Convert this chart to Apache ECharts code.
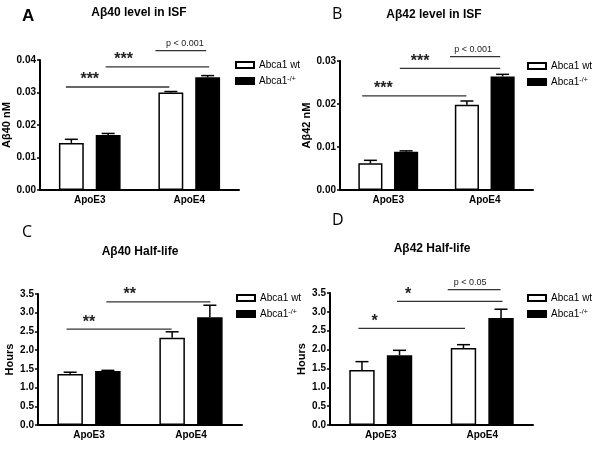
<!DOCTYPE html>
<html><head><meta charset="utf-8">
<script src="https://cdn.jsdelivr.net/npm/echarts@6/dist/echarts.min.js"></script>
<style>html,body{margin:0;padding:0;background:#fff}#c{width:600px;height:458px}</style>
</head><body><div id="c"></div>
<script>
// ---------- data ----------
const categories = ['ApoE3', 'ApoE4'];
const seriesNames = ['Abca1 wt', 'Abca1-/+'];

const aWt = [0.0145, 0.0300];
const aWtErr = [0.0011, 0.0003];
const aKo = [0.0169, 0.0347];
const aKoErr = [0.0005, 0.0005];

const bWt = [0.0062, 0.0198];
const bWtErr = [0.0007, 0.0009];
const bKo = [0.0089, 0.0264];
const bKoErr = [0.0002, 0.0005];

const cWt = [1.36, 2.33];
const cWtErr = [0.05, 0.16];
const cKo = [1.44, 2.88];
const cKoErr = [0.02, 0.32];

const dWt = [1.46, 2.04];
const dWtErr = [0.22, 0.09];
const dKo = [1.85, 2.84];
const dKoErr = [0.13, 0.23];

// significance brackets: [x start, x end, y level, label x] in category units
const aSig = [[-0.24, 0.80, 0.0317, 0.0], [0.16, 1.20, 0.0379, 0.34], [0.66, 1.17, 0.0429, 0.955]];
const aSigText = ['***', '***', 'p < 0.001'];
const bSig = [[-0.27, 0.81, 0.0219, -0.05], [0.12, 1.16, 0.0283, 0.33], [0.64, 1.16, 0.0310, 0.88]];
const bSigText = ['***', '***', 'p < 0.001'];
const cSig = [[-0.22, 0.81, 2.56, 0.0], [0.17, 1.19, 3.29, 0.40]];
const cSigText = ['**', '**'];
const dSig = [[-0.22, 0.83, 2.56, -0.06], [0.16, 1.20, 3.28, 0.27], [0.66, 1.18, 3.59, 0.88]];
const dSigText = ['*', '*', 'p < 0.05'];

const panelLetters = ['A', 'B', 'C', 'D'];
const panelTitles = ['A\u03b240 level in ISF', 'A\u03b242 level in ISF', 'A\u03b240 Half-life', 'A\u03b242 Half-life'];
const yNames = ['A\u03b240 nM', 'A\u03b242 nM', 'Hours', 'Hours'];
const yMax = [0.04, 0.03, 3.5, 3.5];
const yInterval = [0.01, 0.01, 0.5, 0.5];
const yDecimals = [2, 2, 1, 1];

// ---------- layout ----------
const FONT = '"Liberation Sans", Arial, sans-serif';
const grids = [
  {left: 40, top: 60, width: 199, height: 130},
  {left: 340, top: 61, width: 193, height: 129},
  {left: 38, top: 294, width: 204, height: 131},
  {left: 330, top: 293, width: 203, height: 132}
];
const legendPos = [[230, 55], [522, 56], [231, 288], [522, 288]];
const titlePos = [[139, 7], [434, 9], [140, 246], [432, 243]];
const letterPos = [[22, 8], [332, 6], [22, 224], [332, 212]];

const BAR_W = 0.25, BAR_GAP = 0.48;
const OFFSET = BAR_W * (1 + BAR_GAP) / 2;

const panels = [
  {wt: aWt, wtE: aWtErr, ko: aKo, koE: aKoErr, sig: aSig, sigText: aSigText},
  {wt: bWt, wtE: bWtErr, ko: bKo, koE: bKoErr, sig: bSig, sigText: bSigText},
  {wt: cWt, wtE: cWtErr, ko: cKo, koE: cKoErr, sig: cSig, sigText: cSigText},
  {wt: dWt, wtE: dWtErr, ko: dKo, koE: dKoErr, sig: dSig, sigText: dSigText}
];

function errRender(params, api) {
  const x = api.value(0), v = api.value(1), e = api.value(2);
  const p0 = api.coord([x, v]);
  const p1 = api.coord([x, v + e]);
  const hw = 6.5;
  const st = {stroke: '#000', lineWidth: 1.5};
  return {type: 'group', children: [
    {type: 'line', shape: {x1: p0[0], y1: p0[1], x2: p1[0], y2: p1[1]}, style: st},
    {type: 'line', shape: {x1: p1[0] - hw, y1: p1[1], x2: p1[0] + hw, y2: p1[1]}, style: st}
  ]};
}

function makeSigRender(texts) {
  return function (params, api) {
    const a = api.coord([api.value(0), api.value(2)]);
    const b = api.coord([api.value(1), api.value(2)]);
    const t = api.coord([api.value(3), api.value(2)]);
    const label = texts[params.dataIndex];
    const star = label.charAt(0) === '*';
    return {type: 'group', children: [
      {type: 'line', shape: {x1: a[0], y1: a[1], x2: b[0], y2: b[1]}, style: {stroke: '#333', lineWidth: 1.3}},
      {type: 'text', style: {
        text: label, x: t[0], y: a[1] + (star ? 1 : -3),
        align: 'center', verticalAlign: 'bottom',
        font: star ? 'bold 16px ' + FONT : '9px ' + FONT, fill: '#222'
      }}
    ]};
  };
}

const xAxis = [], yAxis = [], series = [], legend = [], graphic = [];
panels.forEach((p, i) => {
  xAxis.push({
    type: 'category', gridIndex: i, data: categories,
    axisLine: {onZero: false, lineStyle: {color: '#000', width: 2}},
    axisTick: {alignWithLabel: true, length: 4, lineStyle: {color: '#000', width: 1.5}},
    axisLabel: {color: '#000', fontWeight: 'bold', fontSize: 10, fontFamily: FONT, margin: 5}
  });
  xAxis.push({type: 'value', gridIndex: i, min: -0.5, max: 1.5, show: false,
    axisLine: {show: false, onZero: false}});
  yAxis.push({
    type: 'value', gridIndex: i, min: 0, max: yMax[i], interval: yInterval[i],
    name: yNames[i], nameLocation: 'middle', nameGap: 23,
    nameTextStyle: {color: '#000', fontWeight: 'bold', fontSize: 11, fontFamily: FONT},
    axisLine: {show: true, onZero: false, lineStyle: {color: '#000', width: 2}},
    axisTick: {show: true, length: 3, lineStyle: {color: '#000', width: 1.5}},
    splitLine: {show: false},
    axisLabel: {color: '#000', fontWeight: 'bold', fontSize: 10, fontFamily: FONT, margin: 4,
      formatter: v => v.toFixed(yDecimals[i])}
  });
  const cx = 2 * i, vx = 2 * i + 1;
  series.push({
    type: 'bar', name: seriesNames[0], xAxisIndex: cx, yAxisIndex: i, data: p.wt,
    barWidth: (BAR_W * 100) + '%', barGap: (BAR_GAP * 100) + '%',
    itemStyle: {color: '#fff', borderColor: '#000', borderWidth: 1.5}, silent: true
  });
  series.push({
    type: 'bar', name: seriesNames[1], xAxisIndex: cx, yAxisIndex: i, data: p.ko,
    barWidth: (BAR_W * 100) + '%', barGap: (BAR_GAP * 100) + '%',
    itemStyle: {color: '#000', borderColor: '#000', borderWidth: 1.5}, silent: true
  });
  series.push({
    type: 'custom', xAxisIndex: vx, yAxisIndex: i, renderItem: errRender, z: 5, silent: true,
    encode: {x: 0, y: [1, 2]},
    data: p.wt.map((v, k) => [k - OFFSET, v, p.wtE[k]]).concat(p.ko.map((v, k) => [k + OFFSET, v, p.koE[k]]))
  });
  series.push({
    type: 'custom', xAxisIndex: vx, yAxisIndex: i, renderItem: makeSigRender(p.sigText), z: 6, silent: true,
    encode: {x: [0, 1, 3], y: 2}, data: p.sig
  });
  legend.push({
    data: seriesNames, orient: 'vertical', left: legendPos[i][0], top: legendPos[i][1],
    icon: 'rect', itemWidth: 18, itemHeight: 6, itemGap: 6, selectedMode: false,
    textStyle: {color: '#000', fontSize: 10, fontFamily: FONT,
      rich: {sup: {fontSize: 7, verticalAlign: 'top', color: '#000', fontFamily: FONT}}},
    formatter: n => n === seriesNames[1] ? 'Abca1{sup|-/+}' : n
  });
  graphic.push({type: 'text', left: letterPos[i][0], top: letterPos[i][1],
    style: {text: panelLetters[i], font: (i === 0 ? 'bold 17px ' + FONT : '16px "Open Sans", sans-serif'), fill: '#000'}});
  graphic.push({type: 'text', x: titlePos[i][0], y: titlePos[i][1],
    style: {text: panelTitles[i], font: 'bold 12px ' + FONT, fill: '#000', align: 'center', verticalAlign: 'top'}});
});

const chart = echarts.init(document.getElementById('c'), null, {renderer: 'canvas'});
chart.setOption({
  animation: false, backgroundColor: '#fff',
  grid: grids.map(g => Object.assign({containLabel: false}, g)),
  xAxis, yAxis, series, legend, graphic
});
</script></body></html>
